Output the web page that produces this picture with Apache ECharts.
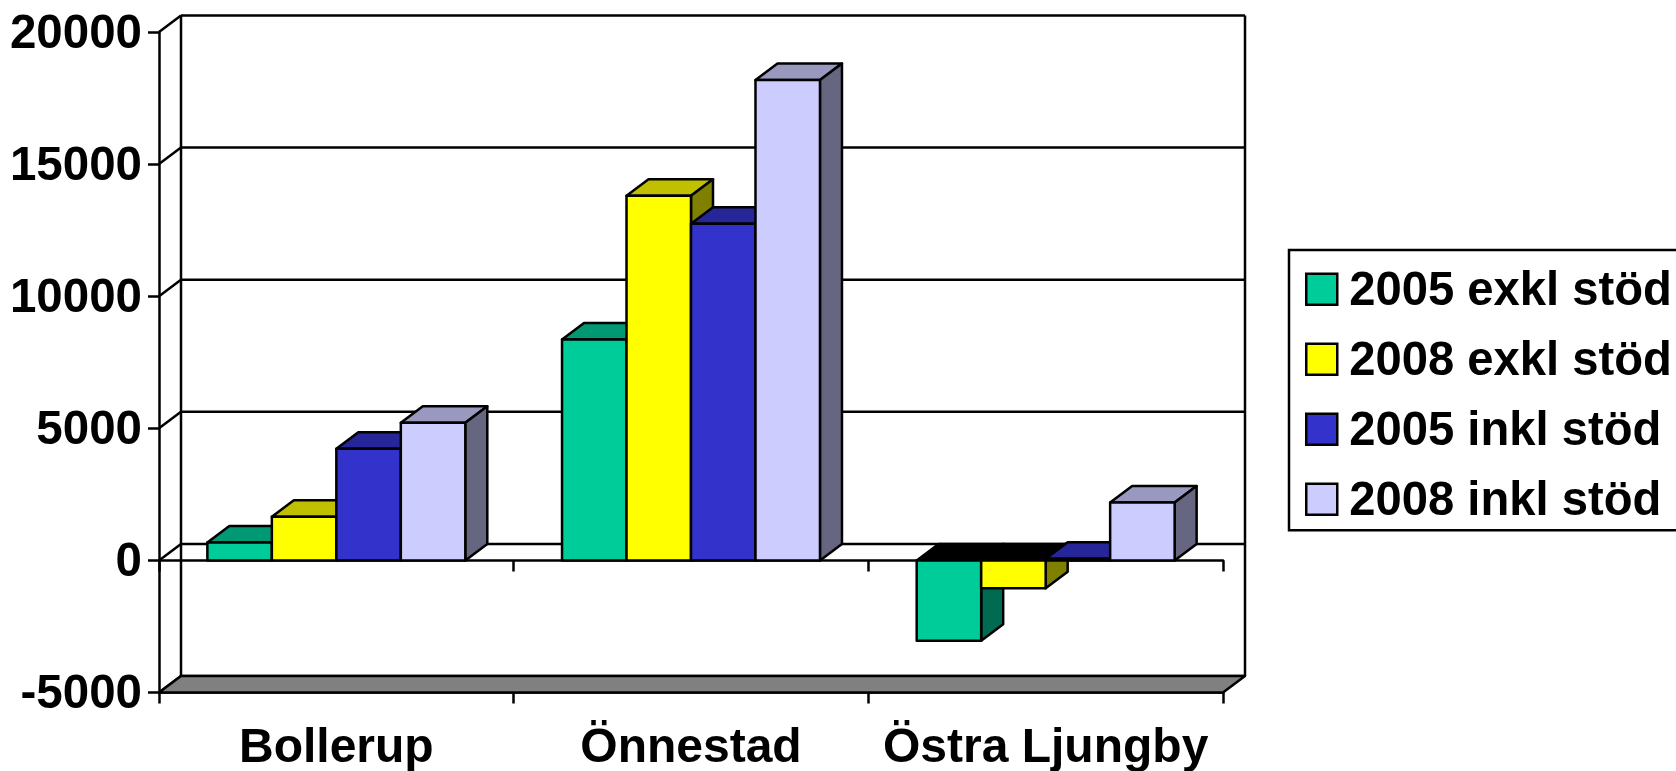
<!DOCTYPE html>
<html>
<head>
<meta charset="utf-8">
<style>
  html, body { margin: 0; padding: 0; background: #fff; overflow: hidden; }
  #chart { width: 1676px; height: 771px; }
</style>
<script src="https://cdn.jsdelivr.net/npm/echarts@6/dist/echarts.min.js"></script>
</head>
<body>
<div id="chart"></div>
<script>
const categories = ['Bollerup', 'Önnestad', 'Östra Ljungby'];
const yTicks = [-5000, 0, 5000, 10000, 15000, 20000];

const seriesNames = ['2005 exkl stöd', '2008 exkl stöd', '2005 inkl stöd', '2008 inkl stöd'];
const exkl2005 = [680, 8360, -3040];
const exkl2008 = [1650, 13800, -1050];
const inkl2005 = [4230, 12740, 60];
const inkl2008 = [5210, 18180, 2190];

const frontColors = ['#00CC99', '#FFFF00', '#3333CC', '#CCCCFF'];
const topColors = ['#009973', '#C0C000', '#262699', '#9999C0'];
const sideColors = ['#006B50', '#808000', '#1A1A66', '#666680'];

const depthX = 22;
const depthY = -16.5;
const lineStyle = { stroke: '#000', lineWidth: 2.5, lineJoin: 'round' };
const font = 'Liberation Sans, Arial, sans-serif';

const chart = echarts.init(document.getElementById('chart'));

const poly = (points, fill) => ({
  type: 'polygon',
  shape: { points },
  style: { fill, ...lineStyle }
});

const seg = (x1, y1, x2, y2) => ({
  type: 'line',
  shape: { x1, y1, x2, y2 },
  style: { ...lineStyle, fill: null }
});

// front, top and side faces of one bar, in paint order
const renderBar = (index) => (params, api) => {
  const cat = api.value(0);
  const val = api.value(1);
  const band = api.size([1, 0])[0];
  const barWidth = band / 5.5;
  const center = api.coord([cat, val])[0];
  const x0 = center - 2 * barWidth + index * barWidth;
  const x1 = x0 + barWidth;
  const yVal = api.coord([cat, val])[1];
  const yZero = api.coord([cat, 0])[1];
  const yTop = Math.min(yVal, yZero);
  const yBottom = Math.max(yVal, yZero);
  const capFill = val < 0 ? '#000' : topColors[index];
  return {
    type: 'group',
    children: [
      poly([[x0, yTop], [x1, yTop], [x1 + depthX, yTop + depthY], [x0 + depthX, yTop + depthY]], capFill),
      poly([[x1, yTop], [x1 + depthX, yTop + depthY], [x1 + depthX, yBottom + depthY], [x1, yBottom]], sideColors[index]),
      poly([[x0, yTop], [x1, yTop], [x1, yBottom], [x0, yBottom]], frontColors[index])
    ]
  };
};

// back wall grid line plus the diagonal on the side wall
const renderGrid = (params, api) => {
  const band = api.size([1, 0])[0];
  const p = api.coord([0, api.value(1)]);
  const left = p[0] - band / 2;
  const right = api.coord([categories.length - 1, api.value(1)])[0] + band / 2;
  return {
    type: 'group',
    children: [
      seg(left, p[1], left + depthX, p[1] + depthY),
      seg(left + depthX, p[1] + depthY, right + depthX, p[1] + depthY)
    ]
  };
};

const renderFrame = (params, api) => {
  const band = api.size([1, 0])[0];
  const yMin = api.coord([0, yTicks[0]])[1];
  const yMax = api.coord([0, yTicks[yTicks.length - 1]])[1];
  const left = api.coord([0, 0])[0] - band / 2;
  const right = api.coord([categories.length - 1, 0])[0] + band / 2;
  return {
    type: 'group',
    children: [
      seg(left + depthX, yMax + depthY, left + depthX, yMin + depthY),
      seg(right + depthX, yMax + depthY, right + depthX, yMin + depthY),
      poly([[left, yMin], [left + depthX, yMin + depthY], [right + depthX, yMin + depthY], [right, yMin]], '#808080')
    ]
  };
};

const seriesValues = [exkl2005, exkl2008, inkl2005, inkl2008];

const axisFont = { color: '#000', fontFamily: font, fontWeight: 'bold', fontSize: 47.5 };
const axisStroke = { color: '#000', width: 2.5 };

chart.setOption({
  animation: false,
  backgroundColor: '#fff',
  grid: { left: 159, top: 32, width: 1064, height: 660.5, outerBoundsMode: 'none' },
  legend: {
    left: 1289,
    top: 250,
    orient: 'vertical',
    icon: 'rect',
    data: seriesNames,
    itemWidth: 31,
    itemHeight: 31,
    itemGap: 23,
    padding: [18.7, 16, 4.6, 16],
    borderColor: '#000',
    borderWidth: 2.5,
    backgroundColor: '#fff',
    itemStyle: { borderColor: '#000', borderWidth: 2.5 },
    formatter: (name) => `{t|${name}}`,
    textStyle: {
      ...axisFont,
      rich: { t: { ...axisFont, fontSize: 47.2, padding: [6, 0, 0, 7] } }
    }
  },
  xAxis: [
    {
      type: 'category',
      data: categories,
      position: 'bottom',
      axisLine: { onZero: false, lineStyle: axisStroke },
      axisTick: { show: true, length: 11, lineStyle: axisStroke },
      axisLabel: { ...axisFont, fontSize: 48, margin: 32, interval: 0, hideOverlap: false }
    },
    {
      type: 'category',
      data: categories,
      position: 'bottom',
      axisLine: { onZero: true, lineStyle: axisStroke },
      axisTick: { show: true, length: 11, lineStyle: axisStroke },
      axisLabel: { show: false }
    }
  ],
  yAxis: {
    type: 'value',
    min: -5000,
    max: 20000,
    interval: 5000,
    axisLine: { show: true, lineStyle: axisStroke },
    axisTick: { show: true, length: 11, lineStyle: axisStroke },
    axisLabel: {
      ...axisFont,
      margin: 17,
      formatter: (v) => `{t|${v}}`,
      rich: { t: { ...axisFont, padding: [5, 0, 0, 0] } }
    },
    splitLine: { show: false }
  },
  series: [
    {
      type: 'custom',
      name: 'grid',
      z: 1,
      silent: true,
      renderItem: renderGrid,
      data: yTicks.map((t) => [0, t])
    },
    {
      type: 'custom',
      name: 'frame',
      z: 1,
      silent: true,
      renderItem: renderFrame,
      data: [[0, 0]]
    },
    ...seriesNames.map((name, i) => ({
      type: 'custom',
      name,
      z: 3,
      itemStyle: { color: frontColors[i] },
      renderItem: renderBar(i),
      encode: { x: 0, y: 1 },
      data: seriesValues[i].map((v, c) => [c, v])
    }))
  ]
});
</script>
</body>
</html>
